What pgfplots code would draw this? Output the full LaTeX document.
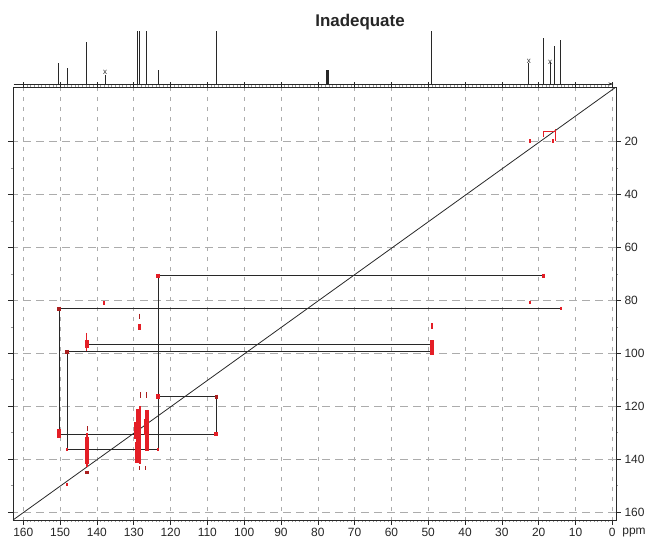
\documentclass[border=0pt]{standalone}
\usepackage{pgfplots}
\pgfplotsset{compat=1.18}
\usetikzlibrary{arrows.meta}
\usepackage{fontspec}
\setmainfont{Liberation Sans}
\definecolor{pk}{RGB}{228,30,38}
\definecolor{dpk}{RGB}{170,30,30}
\definecolor{ln}{RGB}{40,40,40}
\begin{document}
\begin{tikzpicture}
\useasboundingbox (0bp,0bp) rectangle (650bp,-544bp);
\node[font=\bfseries\fontsize{17}{20}\selectfont, text=black!85] at (360bp,-22bp) {Inadequate};
% 1D spectrum on top
\begin{axis}[at={(13bp,-28bp)}, anchor=north west, scale only axis,
  width=603bp, height=56bp, x dir=reverse, xmin=-1, xmax=162.8,
  ymin=0, ymax=56, axis lines=none, clip=false]
\addplot[ln, line width=0.9bp, ycomb] coordinates {
 (150.5,21) (147.9,16) (142.8,42) (137.8,9) (129.0,53) (128.4,53)
 (126.5,53) (123.4,14) (107.4,53) (77.6,14) (77.3,14) (77.0,14)
 (49.0,53) (22.7,21) (18.6,46) (16.7,22) (15.6,38) (14.0,44)};
\addplot[ln, line width=0.8bp, -{Stealth[length=5bp,width=3bp]}] coordinates {(162.6,0) (-0.3,0)};
\node[font=\fontsize{8}{8}\selectfont, text=ln] at (axis cs:137.8,12) {x};
\node[font=\fontsize{8}{8}\selectfont, text=ln] at (axis cs:22.7,23) {x};
\node[font=\fontsize{8}{8}\selectfont, text=ln] at (axis cs:16.9,22) {x};
\end{axis}
% 2D INADEQUATE map
\begin{axis}[at={(13bp,-87bp)}, anchor=north west, scale only axis,
  width=603bp, height=433bp,
  x dir=reverse, y dir=reverse,
  xmin=-1, xmax=162.8, ymin=-0.6, ymax=163,
  xtick={0,10,...,160}, ytick={20,40,...,160},
  minor x tick num=9, minor y tick num=1,
  tick align=outside, major tick length=5bp, minor tick length=2bp,
  yticklabel pos=right,
  grid=major,
  x grid style={gray!65, line width=0.6bp, dash pattern=on 4bp off 6bp},
  y grid style={gray!65, line width=0.6bp, dash pattern=on 8bp off 5bp},
  axis line style={ln, line width=0.9bp},
  major tick style={ln, line width=0.6bp},
  minor tick style={gray!80, line width=0.5bp},
  ticklabel style={font=\fontsize{12}{12}\selectfont, text=black!85},
  /pgf/number format/assume math mode=true,
  clip=true]
% diagonal
\addplot[ln, line width=0.8bp] coordinates {(-1,-0.6) (162.8,163)};
% connectivity lines
\addplot[ln, line width=0.8bp] coordinates {(18.6,70.6) (123.4,70.6) (123.4,136.3) (148.1,136.3) (148.1,99.4) (48.9,99.4)};
\addplot[ln, line width=0.8bp] coordinates {(14.0,83.1) (150.3,83.1) (150.3,130.5) (107.6,130.5) (107.6,116.3) (123.4,116.3)};
\addplot[ln, line width=0.8bp] coordinates {(142.7,96.5) (48.9,96.5)};
\addplot[pk, line width=0.9bp] coordinates {(18.6,18.1) (18.6,16.3) (15.4,16.3) (15.4,18.1)};
\addplot[pk, line width=0.7bp] coordinates {(15.4,15.4) (15.4,19.9)};
% cross peaks
\addplot[pk, line width=1.8bp] coordinates {(22.4,19.2) (22.4,20.5)};
\addplot[pk, line width=1.8bp] coordinates {(16.1,19.2) (16.1,20.6)};
\addplot[pk, line width=2.8bp] coordinates {(18.6,69.9) (18.6,71.4)};
\addplot[pk, line width=1.8bp] coordinates {(22.3,80.1) (22.3,81.3)};
\addplot[pk, line width=2.2bp] coordinates {(14.0,82.5) (14.0,83.7)};
\addplot[pk, line width=2.2bp] coordinates {(138.0,80.4) (138.0,81.8)};
\addplot[dpk, line width=0.8bp] coordinates {(128.5,85.0) (128.5,87.0)};
\addplot[pk, line width=2.8bp] coordinates {(128.5,88.9) (128.5,91.1)};
\addplot[pk, line width=1.6bp] coordinates {(48.9,88.6) (48.9,90.8)};
\addplot[pk, line width=1bp] coordinates {(142.7,92.3) (142.7,99.0)};
\addplot[pk, line width=4bp] coordinates {(142.7,95.0) (142.7,98.0)};
\addplot[dpk, line width=3.4bp] coordinates {(148.1,98.7) (148.1,100.2)};
\addplot[pk, line width=4.2bp] coordinates {(48.9,95.0) (48.9,100.6)};
\addplot[dpk, line width=3.4bp] coordinates {(150.3,82.4) (150.3,83.9)};
\addplot[pk, line width=3.4bp] coordinates {(123.4,69.9) (123.4,71.4)};
\addplot[pk, line width=4bp] coordinates {(150.3,128.6) (150.3,132.2)};
\addplot[pk, line width=3.4bp] coordinates {(123.4,115.4) (123.4,117.1)};
\addplot[dpk, line width=3.4bp] coordinates {(107.6,115.6) (107.6,117.1)};
\addplot[pk, line width=4bp] coordinates {(107.6,129.7) (107.6,131.4)};
\addplot[pk, line width=2.6bp] coordinates {(148.1,135.8) (148.1,136.9)};
\addplot[pk, line width=2.6bp] coordinates {(123.4,135.8) (123.4,136.9)};
\addplot[pk, line width=4bp] coordinates {(142.7,131.5) (142.7,142.0)};
\addplot[pk, line width=2.5bp] coordinates {(142.7,130) (142.7,143)};
\addplot[dpk, line width=0.8bp] coordinates {(142.7,127.5) (142.7,129.5)};
\addplot[dpk, line width=3.4bp] coordinates {(142.7,144.3) (142.7,145.7)};
\addplot[pk, line width=2bp] coordinates {(148.0,148.9) (148.0,150.1)};
\addplot[pk, line width=4bp] coordinates {(128.8,121.0) (128.8,141.0)};
\addplot[pk, line width=7bp] coordinates {(128.9,126.0) (128.9,132.5)};
\addplot[pk, line width=4bp] coordinates {(129.2,133.5) (129.2,141.5)};
\addplot[pk, line width=2bp] coordinates {(128.4,120.0) (128.4,142.0)};
\addplot[pk, line width=4bp] coordinates {(126.5,121.5) (126.5,137.0)};
\addplot[pk, line width=5.5bp] coordinates {(126.5,125.0) (126.5,131.0)};
\addplot[dpk, line width=0.8bp] coordinates {(128.3,114.8) (128.3,117.0)};
\addplot[dpk, line width=0.8bp] coordinates {(126.5,114.8) (126.5,117.0)};
\addplot[dpk, line width=0.8bp] coordinates {(128.5,142.5) (128.5,144.0)};
\addplot[dpk, line width=0.8bp] coordinates {(126.8,142.5) (126.8,144.0)};
\end{axis}
\node[font=\fontsize{12}{12}\selectfont, text=black!85] at (634bp,-533bp) {ppm};
\end{tikzpicture}
\end{document}
